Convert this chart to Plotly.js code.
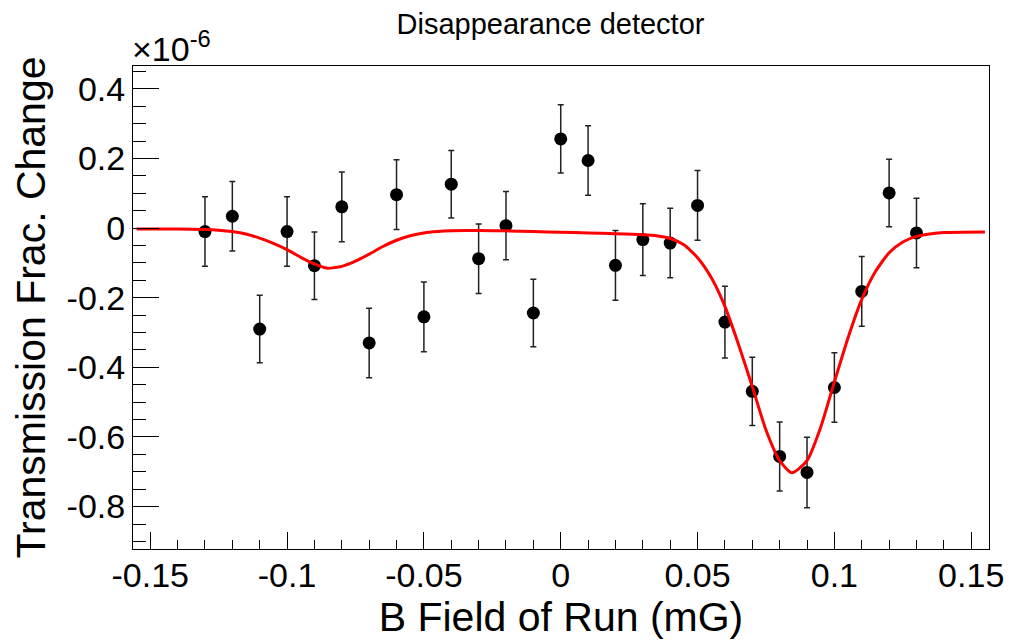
<!DOCTYPE html>
<html>
<head>
<meta charset="utf-8">
<script src="https://cdn.plot.ly/plotly-3.0.1.min.js"></script>
<style>html,body{margin:0;padding:0;background:#fff;}#chart{width:1009px;height:640px;}</style>
</head>
<body>
<div id="chart"></div>
<script>
// B field of each run (mG)
const bField = [-0.13, -0.12, -0.11, -0.10, -0.09, -0.08, -0.07, -0.06, -0.05, -0.04, -0.03, -0.02, -0.01, 0.00,
                0.01, 0.02, 0.03, 0.04, 0.05, 0.06, 0.07, 0.08, 0.09, 0.10, 0.11, 0.12, 0.13];
// Transmission fractional change (units of 1e-6)
const fracChange = [-0.010, 0.034, -0.290, -0.010, -0.108, 0.061, -0.330, 0.096, -0.255, 0.126, -0.088, 0.007, -0.244, 0.256,
                    0.194, -0.107, -0.033, -0.043, 0.065, -0.270, -0.469, -0.656, -0.702, -0.458, -0.182, 0.101, -0.014];
// Error bars (units of 1e-6)
const fracError = [0.100, 0.100, 0.097, 0.100, 0.097, 0.100, 0.100, 0.100, 0.100, 0.097, 0.100, 0.098, 0.097, 0.098,
                   0.100, 0.100, 0.103, 0.100, 0.100, 0.103, 0.098, 0.099, 0.101, 0.100, 0.100, 0.097, 0.100];
// Fit curve (units of 1e-6)
const fitX = [-0.155, -0.14, -0.13, -0.125, -0.12, -0.115, -0.11, -0.105, -0.10, -0.095, -0.09, -0.0855, -0.08, -0.075,
              -0.07, -0.065, -0.06, -0.055, -0.05, -0.045, -0.04, -0.03, -0.02, -0.01, 0.00, 0.01, 0.02, 0.03, 0.035,
              0.04, 0.045, 0.05, 0.055, 0.06, 0.065, 0.07, 0.075, 0.08, 0.0845, 0.09, 0.095, 0.10, 0.105, 0.11, 0.115,
              0.12, 0.125, 0.13, 0.14, 0.155];
const fitY = [-0.003, -0.003, -0.004, -0.006, -0.010, -0.017, -0.029, -0.044, -0.062, -0.084, -0.103, -0.115, -0.110, -0.095,
              -0.075, -0.053, -0.035, -0.022, -0.014, -0.010, -0.008, -0.007, -0.008, -0.010, -0.012, -0.014, -0.016, -0.019, -0.022,
              -0.030, -0.048, -0.085, -0.142, -0.225, -0.335, -0.455, -0.580, -0.668, -0.703, -0.668, -0.572, -0.442, -0.315, -0.205, -0.125,
              -0.071, -0.040, -0.024, -0.013, -0.011];
// Tick labels
const xTickVals = [-0.15, -0.1, -0.05, 0, 0.05, 0.1, 0.15];
const xTickText = ["-0.15", "-0.1", "-0.05", "0", "0.05", "0.1", "0.15"];
const yTickVals = [-0.8, -0.6, -0.4, -0.2, 0, 0.2, 0.4];
const yTickText = ["-0.8", "-0.6", "-0.4", "-0.2", "0", "0.2", "0.4"];

const FONT = "Liberation Sans, Arial, Helvetica, sans-serif";

const traces = [
  {
    x: bField, y: fracChange, type: "scatter", mode: "markers",
    marker: {color: "#000", size: 13, symbol: "circle"},
    error_y: {type: "data", array: fracError, visible: true, color: "#222", thickness: 1.5, width: 3},
    showlegend: false, hoverinfo: "x+y"
  },
  {
    x: fitX, y: fitY, type: "scatter", mode: "lines",
    line: {color: "#ff0000", width: 3, shape: "spline", smoothing: 0.6},
    showlegend: false, hoverinfo: "skip"
  }
];

const layout = {
  width: 1009, height: 640,
  margin: {l: 133, r: 20, t: 66, b: 91},
  paper_bgcolor: "#fff", plot_bgcolor: "#fff",
  font: {family: FONT, color: "#000"},
  title: {text: "Disappearance detector", font: {family: FONT, size: 29, color: "#000"},
          xref: "container", x: 0.5456, xanchor: "center", yref: "container", y: 0.962, yanchor: "middle"},
  xaxis: {
    range: [-0.1563, 0.1565], showgrid: false, zeroline: false,
    showline: true, mirror: true, linecolor: "#000", linewidth: 1,
    tickmode: "array", tickvals: xTickVals, ticktext: xTickText,
    ticks: "inside", ticklen: 17, tickwidth: 1, tickcolor: "#000",
    minor: {tickmode: "linear", tick0: 0, dtick: 0.01, ticks: "inside", ticklen: 9, tickwidth: 1, tickcolor: "#000", showgrid: false},
    tickfont: {family: FONT, size: 34, color: "#000"},
    ticklabelstandoff: -4,
    title: {text: "B Field of Run (mG)", font: {family: FONT, size: 41, color: "#000"}, standoff: 4},
    automargin: false
  },
  yaxis: {
    range: [-0.9218, 0.4655], showgrid: false, zeroline: false,
    showline: true, mirror: true, linecolor: "#000", linewidth: 1,
    tickmode: "array", tickvals: yTickVals, ticktext: yTickText,
    ticks: "inside", ticklen: 26, tickwidth: 1, tickcolor: "#000",
    minor: {tickmode: "linear", tick0: 0, dtick: 0.05, ticks: "inside", ticklen: 13, tickwidth: 1, tickcolor: "#000", showgrid: false},
    tickfont: {family: FONT, size: 34, color: "#000"},
    title: {text: "Transmission Frac. Change", font: {family: FONT, size: 41, color: "#000"}, standoff: 8},
    automargin: false
  },
  annotations: [
    {text: "×10<sup>-6</sup>", xref: "paper", yref: "paper", x: 0, y: 1, xanchor: "left", yanchor: "bottom",
     showarrow: false, font: {family: FONT, size: 34, color: "#000"}, xshift: -3, yshift: -4}
  ]
};

Plotly.newPlot("chart", traces, layout, {displayModeBar: false, staticPlot: true});
</script>
</body>
</html>
